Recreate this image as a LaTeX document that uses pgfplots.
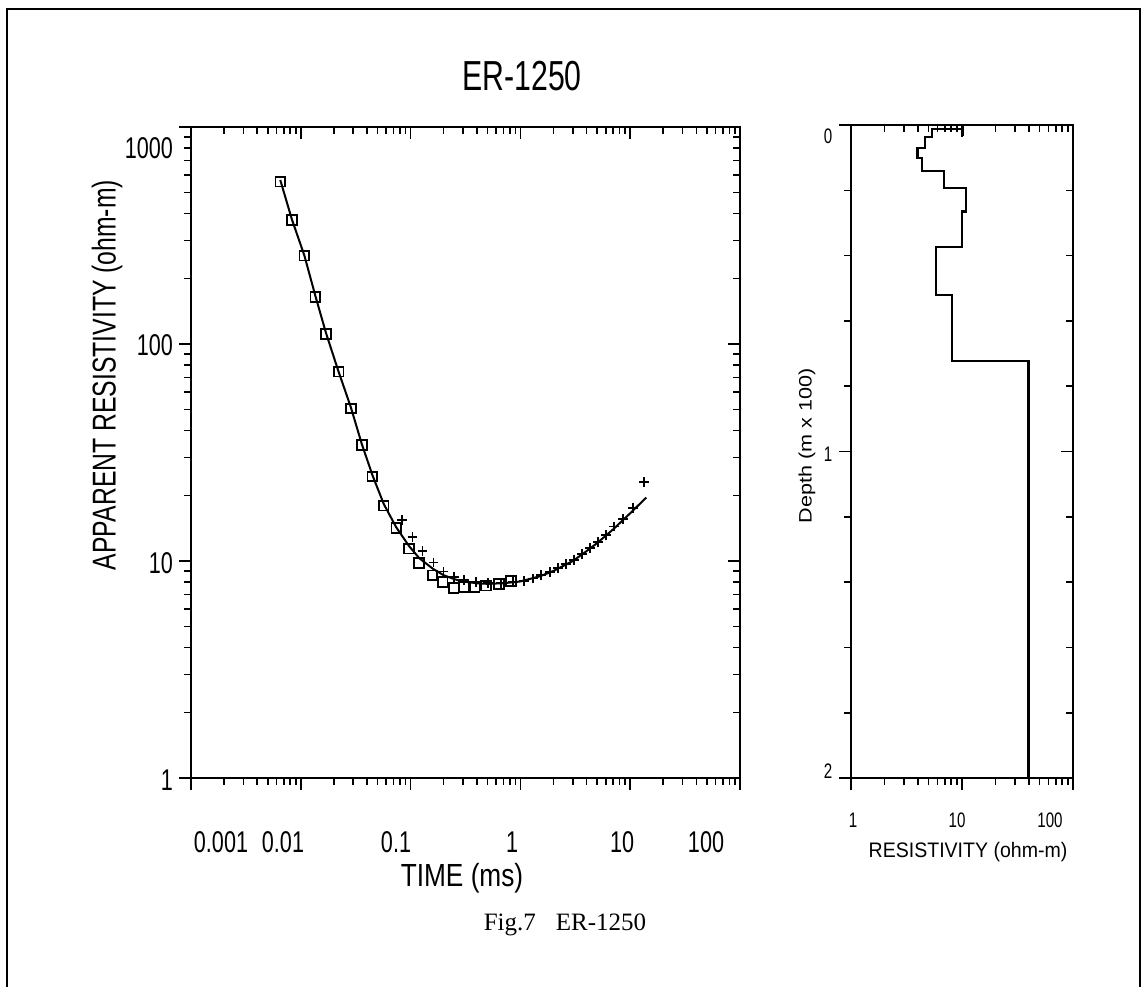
\documentclass[border=0pt]{standalone}
\usepackage{fontspec}
\setmainfont{Liberation Serif}
\newfontfamily\pf[FakeStretch=0.72]{Liberation Sans}
\newfontfamily\pfy[FakeStretch=0.75]{Liberation Sans}
\newfontfamily\pfb[FakeStretch=0.82]{Liberation Sans}
\newfontfamily\pfr[FakeStretch=0.93]{Liberation Sans}
\newfontfamily\pfd[FakeStretch=1.2]{Liberation Sans}
\usepackage{pgfplots}
\pgfplotsset{compat=1.18}
\begin{document}
\begin{tikzpicture}
\begin{scope}[x=0.5pt,y=-0.5pt]
\path[use as bounding box] (0,0) rectangle (1143,986);
\draw[line width=1.1pt] (7,992) -- (7,9) -- (1140,9) -- (1140,992);
\end{scope}

% ---------- left panel: inner ticks on top/right ----------
\begin{loglogaxis}[scale only axis, at={(95.5pt,-63.5pt)}, anchor=north west,
    width=274.5pt, height=325.5pt,
    xmin=1e-3, xmax=100, ymin=1, ymax=1000,
    xtick={1e-3,1e-2,0.1,1,10,100}, ytick={1,10,100,1000},
    minor xtick={0.002,0.003,0.004,0.005,0.006,0.007,0.008,0.009,0.02,0.03,0.04,0.05,0.06,0.07,0.08,0.09,0.2,0.3,0.4,0.5,0.6,0.7,0.8,0.9,2,3,4,5,6,7,8,9,20,30,40,50,60,70,80,90},
    minor ytick={2,3,4,5,6,7,8,9,20,30,40,50,60,70,80,90,200,300,400,500,600,700,800,900},
    axis line style={draw=none},
    every tick/.style={black,line width=0.8pt},
    major tick length=6pt, minor tick length=3.5pt,
    xticklabels={}, yticklabels={},
    tick align=inside, xtick pos=right, ytick pos=right]
\addplot[draw=none] coordinates {(1,1)};
\end{loglogaxis}
% ---------- left panel main ----------
\begin{loglogaxis}[scale only axis, at={(95.5pt,-63.5pt)}, anchor=north west,
    width=274.5pt, height=325.5pt,
    xmin=1e-3, xmax=100, ymin=1, ymax=1000,
    xtick={1e-3,1e-2,0.1,1,10,100}, ytick={1,10,100,1000},
    minor xtick={0.002,0.003,0.004,0.005,0.006,0.007,0.008,0.009,0.02,0.03,0.04,0.05,0.06,0.07,0.08,0.09,0.2,0.3,0.4,0.5,0.6,0.7,0.8,0.9,2,3,4,5,6,7,8,9,20,30,40,50,60,70,80,90},
    minor ytick={2,3,4,5,6,7,8,9,20,30,40,50,60,70,80,90,200,300,400,500,600,700,800,900},
    axis line style={line width=1.1pt},
    every tick/.style={black,line width=0.8pt},
    major tick length=6pt, minor tick length=3.5pt,
    xticklabels={}, yticklabels={},
    tick align=outside, xtick pos=left, ytick pos=left]
\addplot[line width=1pt] coordinates {
(0.0065,570) (0.0083,375) (0.0108,255) (0.0136,166) (0.017,112) (0.022,75)
(0.0286,51) (0.036,34.5) (0.045,24.8) (0.057,18.3) (0.074,14.3) (0.097,11.7)
(0.12,10.3) (0.16,9.2) (0.2,8.6) (0.25,8.25) (0.3,8.05) (0.4,7.9) (0.5,7.85)
(0.7,7.9) (1.0,8.05) (1.5,8.5) (2,9.0) (3,10.0) (4,11.1) (5,12.1) (7,14.0)
(10,16.6) (14,19.6)};
\addplot[only marks, mark=square, mark size=2.4pt, mark options={line width=0.9pt}] coordinates {
(0.0065,560) (0.0083,373) (0.01076,255) (0.01355,165) (0.0170,111) (0.0221,74.5)
(0.0286,50.4) (0.0362,34.2) (0.0447,24.5) (0.0570,18.0) (0.0740,14.2) (0.0966,11.4)
(0.119,9.8) (0.158,8.6) (0.196,8.0) (0.247,7.5) (0.305,7.6) (0.384,7.6)
(0.484,7.7) (0.637,7.85) (0.82,8.1)};
\addplot[only marks, mark=+, mark size=2.4pt, mark options={line width=0.8pt}] coordinates {
(0.084,15.5) (0.104,12.9) (0.128,11.1) (0.162,9.85) (0.2,8.93) (0.247,8.44)
(0.305,8.17) (0.393,8.0) (0.505,7.92) (0.664,7.92) (0.855,8.0) (1.08,8.09)
(1.30,8.3) (1.54,8.6) (1.86,8.89) (2.20,9.29) (2.60,9.68) (3.08,10.1)
(3.65,10.8) (4.32,11.5) (5.1,12.2) (6.04,13.2) (7.14,14.4) (8.63,15.6)
(10.6,17.6) (13.3,23.1)};
\end{loglogaxis}

% ---------- right panel: inner ticks ----------
\begin{semilogxaxis}[scale only axis, at={(425.5pt,-62.5pt)}, anchor=north west,
    width=111pt, height=326.5pt, xmin=1, xmax=100,
    ymin=0, ymax=2, y dir=reverse,
    xtick={1,10,100}, ytick={0,1,2},
    minor xtick={2,3,4,5,6,7,8,9,20,30,40,50,60,70,80,90},
    minor ytick={0.2,0.4,0.6,0.8,1.2,1.4,1.6,1.8},
    axis line style={draw=none},
    every tick/.style={black,line width=0.8pt},
    major tick length=6pt, minor tick length=3.5pt,
    xticklabels={}, yticklabels={},
    tick align=inside, xtick pos=right, ytick pos=right]
\addplot[draw=none] coordinates {(1,1)};
\end{semilogxaxis}
% ---------- right panel main ----------
\begin{semilogxaxis}[scale only axis, at={(425.5pt,-62.5pt)}, anchor=north west,
    width=111pt, height=326.5pt, xmin=1, xmax=100,
    ymin=0, ymax=2, y dir=reverse,
    xtick={1,10,100}, ytick={0,1,2},
    minor xtick={2,3,4,5,6,7,8,9,20,30,40,50,60,70,80,90},
    minor ytick={0.2,0.4,0.6,0.8,1.2,1.4,1.6,1.8},
    axis line style={line width=1.1pt},
    every tick/.style={black,line width=0.8pt},
    major tick length=6pt, minor tick length=3.5pt,
    xticklabels={}, yticklabels={},
    tick align=outside, xtick pos=left, ytick pos=left]
\addplot[line width=1.1pt] coordinates {
(10.1,0) (10.1,0.034)};
\addplot[line width=1.1pt] coordinates {
(10.1,0.013) (5.4,0.013) (5.4,0.036) (4.67,0.036) (4.67,0.071) (3.98,0.071)
(3.98,0.102) (4.36,0.102) (4.36,0.141) (6.9,0.141) (6.9,0.194) (10.9,0.194)
(10.9,0.265) (10.0,0.265) (10.0,0.373) (5.8,0.373) (5.8,0.521) (8.06,0.521)
(8.06,0.722) (39.8,0.722) (39.8,2)};
\end{semilogxaxis}

% ---------- text ----------
\begin{scope}[x=0.5pt,y=-0.5pt]
\node[font=\pf\fontsize{21}{21}\selectfont] at (522,76) {ER-1250};
\begin{scope}[every node/.style={font=\pf\fontsize{15}{15}\selectfont}]
\node[anchor=east] at (180,148) {1000};
\node[anchor=east] at (180,345) {100};
\node[anchor=east] at (180,563) {10};
\node[anchor=east] at (180,780) {1};
\node at (221,842) {0.001};
\node at (283,842) {0.01};
\node at (396,842) {0.1};
\node at (512,842) {1};
\node at (622,842) {10};
\node at (706,842) {100};
\end{scope}
\node[font=\pfy\fontsize{16.5}{16.5}\selectfont, rotate=90] at (107,375) {APPARENT RESISTIVITY (ohm-m)};
\node[font=\pfb\fontsize{16}{16}\selectfont] at (462,878) {TIME (ms)};
\begin{scope}[every node/.style={font=\pf\fontsize{10.5}{10.5}\selectfont}]
\node at (828,136) {0};
\node at (828,454) {1};
\node at (828,771) {2};
\node at (853,820) {1};
\node at (957,820) {10};
\node at (1050,820) {100};
\end{scope}
\node[font=\pfr\fontsize{10.5}{10.5}\selectfont] at (968,852) {RESISTIVITY (ohm-m)};
\node[font=\pfd\fontsize{9}{9}\selectfont, rotate=90] at (807,446) {Depth (m x 100)};
\node[font=\fontsize{12.5}{12.5}\selectfont] at (565,925) {Fig.7\hspace{0.8em}ER-1250};
\end{scope}
\end{tikzpicture}
\end{document}
